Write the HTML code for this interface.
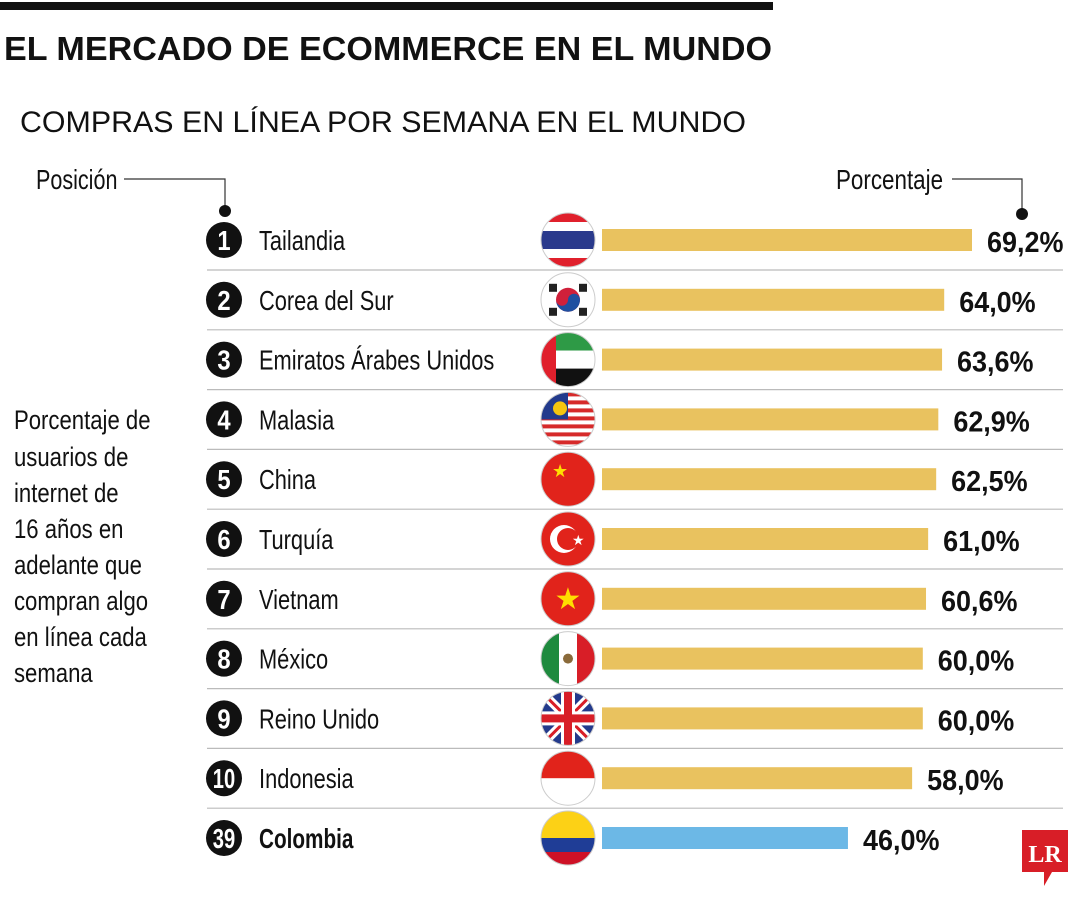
<!DOCTYPE html>
<html><head><meta charset="utf-8"><style>
body{margin:0;background:#fff;width:1080px;height:900px;overflow:hidden;font-family:"Liberation Sans",sans-serif;}
</style></head><body>
<svg width="1080" height="900" id="chart" xmlns="http://www.w3.org/2000/svg">
<rect x="0" y="2" width="773" height="8" fill="#111"/>
<text x="4" y="60" font-weight="bold" font-size="33" fill="#111" textLength="768" lengthAdjust="spacingAndGlyphs">EL MERCADO DE ECOMMERCE EN EL MUNDO</text>
<text x="20" y="132" font-size="30" fill="#111" textLength="726" lengthAdjust="spacingAndGlyphs">COMPRAS EN LÍNEA POR SEMANA EN EL MUNDO</text>
<text transform="translate(36,189) scale(0.77,1)" font-size="28" fill="#111">Posición</text>
<polyline points="124,179 225,179 225,210" fill="none" stroke="#333" stroke-width="1.2"/>
<circle cx="225" cy="211" r="6" fill="#111"/>
<text transform="translate(836,189) scale(0.8,1)" font-size="28" fill="#111">Porcentaje</text>
<polyline points="952,179 1022,179 1022,212" fill="none" stroke="#333" stroke-width="1.2"/>
<circle cx="1022" cy="214" r="6" fill="#111"/>
<g font-size="27" fill="#111">
<text transform="translate(14,429) scale(0.82,1)">Porcentaje de</text><text transform="translate(14,466) scale(0.82,1)">usuarios de</text><text transform="translate(14,502) scale(0.82,1)">internet de</text><text transform="translate(14,538) scale(0.82,1)">16 años en</text><text transform="translate(14,574) scale(0.82,1)">adelante que</text><text transform="translate(14,610) scale(0.82,1)">compran algo</text><text transform="translate(14,646) scale(0.82,1)">en línea cada</text><text transform="translate(14,682) scale(0.82,1)">semana</text>
</g>
<g id="rows"></g>
<g>
<path d="M1022,830 H1068 V872 H1052 L1044,886 L1044,872 H1022 Z" fill="#d81e27"/>
<text x="1045" y="862" text-anchor="middle" font-family="Liberation Serif" font-weight="bold" font-size="24" fill="#fff">LR</text>
</g>
</svg>
<script>
const ranks=["1","2","3","4","5","6","7","8","9","10","39"];
const countries=["Tailandia","Corea del Sur","Emiratos Árabes Unidos","Malasia","China","Turquía","Vietnam","México","Reino Unido","Indonesia","Colombia"];
const values=[69.2,64.0,63.6,62.9,62.5,61.0,60.6,60.0,60.0,58.0,46.0];
const labels=["69,2%","64,0%","63,6%","62,9%","62,5%","61,0%","60,6%","60,0%","60,0%","58,0%","46,0%"];
const NS="http://www.w3.org/2000/svg";
const x0=602, scale=(972-602)/69.2;
const xs=v=>x0+v*scale;
const yc=i=>240+i*59.8;
const g=document.getElementById('rows');
function mk(t,a,p){const e=document.createElementNS(NS,t);for(const k in a)e.setAttribute(k,a[k]);(p||g).appendChild(e);return e;}
function flag(i,cx,cy){
  const r=27;const fg=mk('g',{});
  
  
  const id='c'+i;const cp=mk('clipPath',{id:id},fg);mk('circle',{cx:cx,cy:cy,r:r},cp);
  const h=mk('g',{'clip-path':'url(#'+id+')'},fg);
  const R=(x,y,w,hh,f)=>mk('rect',{x:cx+x,y:cy+y,width:w,height:hh,fill:f},h);
  const C=(x,y,rr,f)=>mk('circle',{cx:cx+x,cy:cy+y,r:rr,fill:f},h);
  switch(i){
   case 0:R(-r,-r,54,54,'#e0202c');R(-r,-18,54,36,'#fff');R(-r,-9,54,18,'#2a3a8c');break;
   case 1:R(-r,-r,54,54,'#fff');C(0,0,12,'#d0203a');mk('path',{d:`M${cx-12},${cy} a12,12 0 0 0 24,0 a6,6 0 0 0 -12,0 a6,6 0 0 1 -12,0z`,fill:'#1f4fa0'},h);
     [[-15,-12],[15,-12],[-15,12],[15,12]].forEach(p=>R(p[0]-4,p[1]-4,8,8,'#222'));break;
   case 2:R(-r,-r,54,18,'#2e9a46');R(-r,-9,54,18,'#fff');R(-r,9,54,18,'#111');R(-r,-r,15,54,'#e0202c');break;
   case 3:R(-r,-r,54,54,'#fff');for(let k=0;k<7;k++)R(-r,-r+k*8,54,4,'#d62a2a');R(-r,-r,27,27,'#223a8c');C(-8,-11,7,'#f4c40f');break;
   case 4:R(-r,-r,54,54,'#e1231b');mk('text',{x:cx-16,y:cy-2,'font-size':18,fill:'#ffde00'},h).textContent='★';break;
   case 5:R(-r,-r,54,54,'#e1231b');C(-4,0,14,'#fff');C(0,0,11,'#e1231b');mk('text',{x:cx+4,y:cy+6,'font-size':14,fill:'#fff'},h).textContent='★';break;
   case 6:R(-r,-r,54,54,'#e1231b');mk('text',{x:cx,y:cy+10,'font-size':30,'text-anchor':'middle',fill:'#ffde00'},h).textContent='★';break;
   case 7:R(-r,-r,54,54,'#fff');R(-r,-r,18,54,'#1e8a3e');R(9,-r,18,54,'#d81e27');C(0,0,5,'#8a6a3a');break;
   case 8:R(-r,-r,54,54,'#233a8c');mk('path',{d:`M${cx-r},${cy-r}L${cx+r},${cy+r}M${cx+r},${cy-r}L${cx-r},${cy+r}`,stroke:'#fff','stroke-width':9},h);
     mk('path',{d:`M${cx-r},${cy-r}L${cx+r},${cy+r}M${cx+r},${cy-r}L${cx-r},${cy+r}`,stroke:'#d81e27','stroke-width':3},h);
     R(-r,-7,54,14,'#fff');R(-7,-r,14,54,'#fff');R(-r,-4,54,8,'#d81e27');R(-4,-r,8,54,'#d81e27');break;
   case 9:R(-r,-r,54,54,'#fff');R(-r,-r,54,27,'#e1231b');break;
   case 10:R(-r,-r,54,54,'#fcd116');R(-r,0,54,14,'#1f3d96');R(-r,14,54,14,'#ce1126');break;
  }
  mk('circle',{cx:cx,cy:cy,r:r,fill:'none',stroke:'#ccc','stroke-width':1},fg);
}
values.forEach((v,i)=>{
  const y=yc(i);
  if(i<values.length-1){const s=mk('line',{x1:207,x2:1063,y1:y+30,y2:y+30,stroke:'#bbb','stroke-width':1.2});
    
    }
  const c=mk('circle',{cx:224,cy:y,r:18,fill:'#111'});
  
  
  const rt=mk('text',{transform:`translate(224,${y+10}) scale(${ranks[i].length>1?0.72:0.85},1)`,'text-anchor':'middle','font-size':28,'font-weight':'bold',fill:'#fff'});rt.textContent=ranks[i];
  
  
  const ct=mk('text',{transform:`translate(259,${y+10}) scale(${i===10?0.74:0.78},1)`,'font-size':28,fill:'#111','font-weight':i===10?'bold':'normal'});ct.textContent=countries[i];
  
  
  flag(i,568,y);
  const b=mk('rect',{x:x0,y:y-11,width:xs(v)-x0,height:22,fill:i===10?'#6cb8e6':'#e9c25f'});
  
  
  const vt=mk('text',{transform:`translate(${xs(v)+15},${y+12}) scale(0.93,1)`,'font-size':29,'font-weight':'bold',fill:'#111'});vt.textContent=labels[i];
  
  
});
</script>
</body></html>
